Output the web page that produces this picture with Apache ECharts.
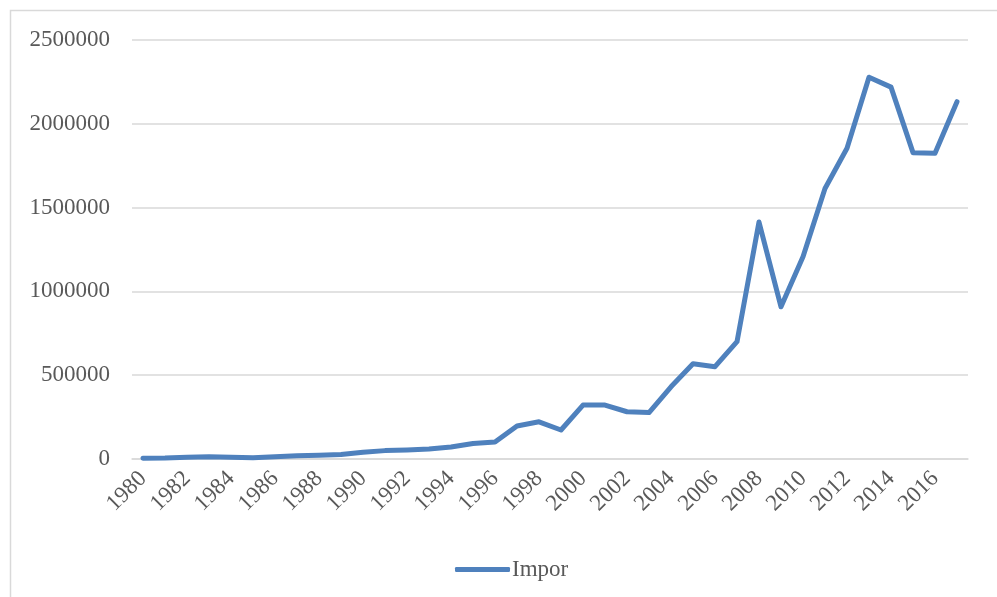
<!DOCTYPE html>
<html>
<head>
<meta charset="utf-8">
<script src="https://cdn.jsdelivr.net/npm/echarts@6/dist/echarts.min.js"></script>
<style>
  html, body { margin: 0; padding: 0; background: #ffffff; }
  #chart { width: 997px; height: 597px; }
</style>
</head>
<body>
<div id="chart"></div>
<script>
// Annual imports, 1980-2017
const years = [
  '1980','1981','1982','1983','1984','1985','1986','1987','1988','1989',
  '1990','1991','1992','1993','1994','1995','1996','1997','1998','1999',
  '2000','2001','2002','2003','2004','2005','2006','2007','2008','2009',
  '2010','2011','2012','2013','2014','2015','2016','2017'
];
const impor = [
  4000, 6000, 11000, 14000, 10000, 8000, 14000, 19000, 22000, 27000,
  40000, 50000, 54000, 60000, 72000, 93000, 101000, 197000, 222000, 173000,
  322000, 322000, 282000, 277000, 431000, 568000, 551000, 700000, 1414000, 908000,
  1207000, 1614000, 1854000, 2278000, 2219000, 1828000, 1824000, 2132000
];
const seriesName = 'Impor';

const font = 'Liberation Serif, Times New Roman, serif';
const textColor = '#595959';
const gridColor = '#d9d9d9';

const chart = echarts.init(document.getElementById('chart'), null, { renderer: 'canvas' });
chart.setOption({
  backgroundColor: '#ffffff',
  animation: false,
  graphic: [{
    type: 'rect',
    shape: { x: 10.5, y: 10.5, width: 1200, height: 1200 },
    style: { fill: 'none', stroke: gridColor, lineWidth: 1.5 },
    silent: true
  }],
  grid: { left: 132, right: 29, top: 40, bottom: 138, containLabel: false },
  legend: {
    left: 450,
    top: 553,
    data: [{ name: seriesName, icon: 'roundRect' }],
    itemWidth: 55,
    itemHeight: 5,
    itemGap: 3,
    textStyle: { fontFamily: font, fontSize: 23, color: textColor, padding: [0, 0, 0, -3] }
  },
  xAxis: {
    type: 'category',
    data: years,
    boundaryGap: true,
    axisLine: { show: true, lineStyle: { color: gridColor, width: 1.5 } },
    axisTick: { show: false },
    axisLabel: {
      interval: 1,
      rotate: 45,
      margin: 16,
      fontFamily: font,
      fontSize: 23,
      color: textColor
    },
    splitLine: { show: false }
  },
  yAxis: {
    type: 'value',
    min: 0,
    max: 2500000,
    interval: 500000,
    axisLine: { show: false },
    axisTick: { show: false },
    axisLabel: {
      margin: 22,
      fontFamily: font,
      fontSize: 23,
      color: textColor,
      formatter: function (v) { return String(v); }
    },
    splitLine: { lineStyle: { color: gridColor, width: 1.5 } }
  },
  series: [{
    name: seriesName,
    type: 'line',
    data: impor,
    showSymbol: false,
    symbol: 'none',
    lineStyle: { color: '#4F81BD', width: 5, cap: 'round', join: 'round' },
    itemStyle: { color: '#4F81BD' }
  }]
});
</script>
</body>
</html>
